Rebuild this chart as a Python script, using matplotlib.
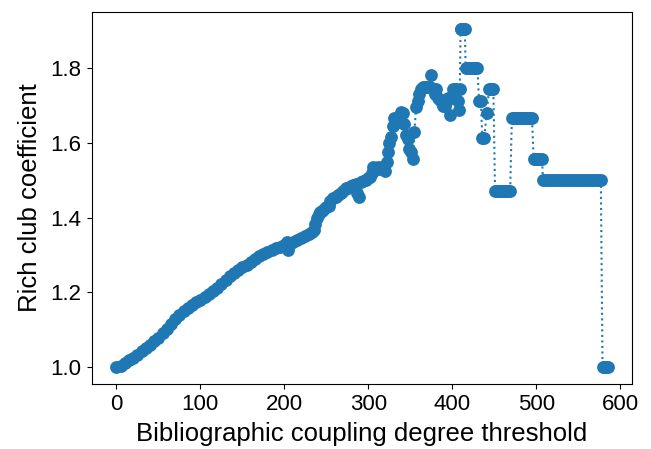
import matplotlib
matplotlib.use("Agg")
import matplotlib.pyplot as plt

plt.rcParams['font.family'] = ['Liberation Sans', 'DejaVu Sans']

# Smooth rising part (threshold, coefficient)
x_rise = [0, 5, 10, 15, 20, 25, 30, 35, 40, 45, 50, 55, 60, 65, 70, 75, 80, 85, 90, 95,
          100, 105, 110, 115, 120, 125, 130, 135, 140, 145, 150, 155, 160, 165, 170, 175,
          180, 185, 190, 195, 200, 203, 205, 207, 210, 215, 220, 225, 230, 233, 235, 237,
          239, 241, 243, 245, 247, 250, 253, 255, 258, 261, 264, 267, 270, 273, 276, 279,
          282, 285, 287, 289, 291, 294, 297]
y_rise = [1.000, 1.003, 1.010, 1.018, 1.025, 1.033, 1.042, 1.051, 1.060, 1.069, 1.078,
          1.090, 1.103, 1.116, 1.128, 1.139, 1.149, 1.158, 1.166, 1.173, 1.180, 1.187,
          1.195, 1.204, 1.212, 1.222, 1.232, 1.243, 1.252, 1.260, 1.267, 1.274, 1.282,
          1.290, 1.297, 1.302, 1.308, 1.313, 1.318, 1.322, 1.326, 1.335, 1.312, 1.330,
          1.334, 1.340, 1.346, 1.350, 1.357, 1.362, 1.368, 1.384, 1.400, 1.410, 1.415,
          1.418, 1.424, 1.428, 1.430, 1.445, 1.452, 1.455, 1.460, 1.465, 1.470, 1.478,
          1.480, 1.485, 1.486, 1.490, 1.465, 1.456, 1.495, 1.497, 1.500]

# Noisy upper part
x_peak = [300, 302, 304, 306, 308, 310, 312, 314, 316, 318, 320, 322, 323, 325, 327, 329,
          331, 333, 335, 337, 339, 341, 343, 345, 347, 349, 351, 353, 355, 357, 359, 361,
          363, 365, 367, 369, 371, 373, 375, 377, 379, 381, 383, 385, 387, 389, 391, 393,
          395, 397, 399, 401, 403, 405, 407, 408, 409]
y_peak = [1.505, 1.510, 1.520, 1.535, 1.530, 1.530, 1.535, 1.530, 1.535, 1.530, 1.525,
          1.550, 1.576, 1.600, 1.617, 1.645, 1.666, 1.660, 1.655, 1.670, 1.684, 1.679,
          1.652, 1.620, 1.610, 1.585, 1.575, 1.558, 1.630, 1.697, 1.711, 1.730, 1.745,
          1.751, 1.751, 1.751, 1.751, 1.751, 1.782, 1.745, 1.730, 1.745, 1.720, 1.715,
          1.711, 1.700, 1.700, 1.710, 1.720, 1.675, 1.720, 1.745, 1.745, 1.745, 1.711,
          1.689, 1.745]

# Tail with plateaus
x_tail = [410, 411, 412, 413, 414, 415, 416, 418, 420, 422, 424, 426, 428, 430,
          432, 434, 436, 438, 441, 444, 445, 447, 449,
          451, 453, 455, 457, 459, 461, 463, 465, 467, 469,
          471, 473, 475, 477, 479, 481, 483, 485, 487, 489, 491, 493, 495,
          497, 499, 501, 503, 505, 507,
          508, 511, 514, 517, 520, 523, 526, 529, 532, 535, 538, 541, 544, 547, 550,
          553, 556, 559, 562, 565, 568, 571, 574, 577,
          579, 581, 583, 585]
y_tail = [1.905, 1.905, 1.905, 1.905, 1.905, 1.905, 1.800, 1.800, 1.800, 1.800, 1.800,
          1.800, 1.800, 1.800,
          1.711, 1.711, 1.612, 1.612, 1.680, 1.745, 1.745, 1.745, 1.745,
          1.471, 1.471, 1.471, 1.471, 1.471, 1.471, 1.471, 1.471, 1.471, 1.471,
          1.667, 1.667, 1.667, 1.667, 1.667, 1.667, 1.667, 1.667, 1.667, 1.667, 1.667,
          1.667, 1.667,
          1.556, 1.556, 1.556, 1.556, 1.556, 1.556,
          1.500, 1.500, 1.500, 1.500, 1.500, 1.500, 1.500, 1.500, 1.500, 1.500, 1.500,
          1.500, 1.500, 1.500, 1.500, 1.500, 1.500, 1.500, 1.500, 1.500, 1.500, 1.500,
          1.500, 1.500,
          1.000, 1.000, 1.000, 1.000]

x = x_rise + x_peak + x_tail
y = y_rise + y_peak + y_tail

fig = plt.figure(figsize=(6.51, 4.49), dpi=100)
ax = fig.add_axes([0.141, 0.145, 0.830, 0.828])
ax.plot(x, y, marker='o', linestyle=':', color='#1f77b4', markersize=8.2, linewidth=1.5)
ax.set_xlabel('Bibliographic coupling degree threshold', fontsize=18.5, labelpad=5)
ax.set_ylabel('Rich club coefficient', fontsize=18.5, labelpad=6)
ax.tick_params(labelsize=16, pad=4)
ax.set_xticks([0, 100, 200, 300, 400, 500, 600])
ax.set_yticks([1.0, 1.2, 1.4, 1.6, 1.8])
fig.savefig('out.png', dpi=100)
